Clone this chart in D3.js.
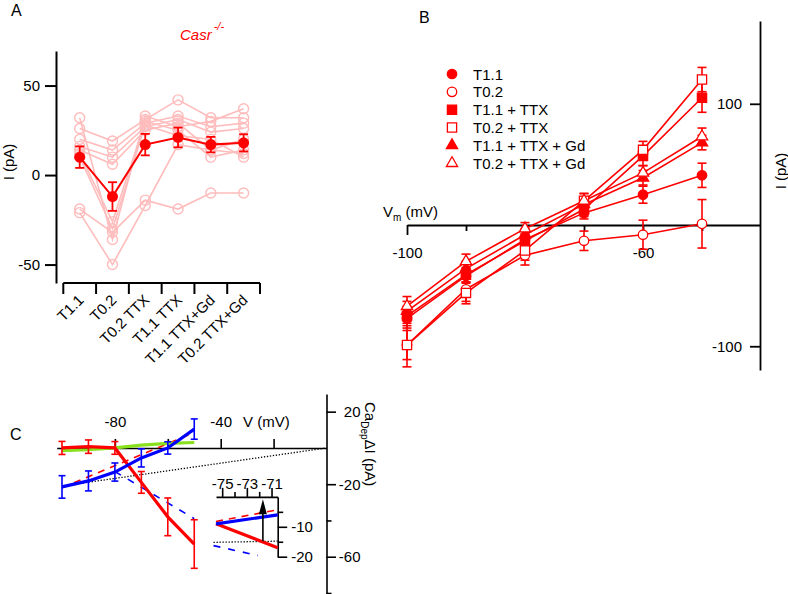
<!DOCTYPE html>
<html><head><meta charset="utf-8">
<script src="https://cdn.jsdelivr.net/npm/d3@7"></script>
<style>
body{margin:0;background:#fff;}
svg{display:block;font-family:"Liberation Sans",Arial,sans-serif;}
</style></head><body>
<svg id="c" width="788" height="594"></svg>
<script>
// ---------- Panel A data ----------
const catsA = ["T1.1","T0.2","T0.2 TTX","T1.1 TTX","T1.1 TTX+Gd","T0.2 TTX+Gd"];
const meanA = [10,-12,17,21,17,18];
const semA  = [6,8,6,5.5,4.3,4.8];
const cellA1 = [32,-36,33,27,30,37];
const cellA2 = [26,19,31,42,32,32];
const cellA3 = [20,14,29,33,27,29];
const cellA4 = [16,10,27,31,24,26];
const cellA5 = [14,6,25,29,14,20];
const cellA6 = [12,-26,30,25,10,14];
const cellA7 = [10,-30,28,22,20,10];
const cellA8 = [-19,-32,-14,-19,-10,-10];
const cellA9 = [-21,-50,-17,17,14,12];
const cellsA = [cellA1,cellA2,cellA3,cellA4,cellA5,cellA6,cellA7,cellA8,cellA9];
const ticksA = [-50,0,50];

// ---------- Panel B data ----------
const vB = [-100,-90,-80,-70,-60,-50];
const bT11      = [-77,-42,-12,10,25,41];   const bT11Err      = [8,6,5,5,7,10];
const bT02      = [-99,-53,-25,-13,-8,1];   const bT02Err      = [18,10,8,8,12,20];
const bT11TTX   = [-75,-41,-13,13,57,105];  const bT11TTXErr   = [8,6,5,6,8,12];
const bT02TTX   = [-99,-56,-21,20,62,120];  const bT02TTXErr   = [12,9,8,6,7,10];
const bT11TTXGd = [-71,-36,-8,17,39,68];    const bT11TTXGdErr = [8,6,5,6,6,6];
const bT02TTXGd = [-67,-30,-3,20,43,73];    const bT02TTXGdErr = [8,6,5,6,6,7];
const namesB = ["T1.1","T0.2","T1.1 + TTX","T0.2 + TTX","T1.1 + TTX + Gd","T0.2 + TTX + Gd"];
const ticksBx = [-100,-60]; const minorBx = [-90,-80,-70,-50];
const ticksBy = [100,-100];

// ---------- Panel C data ----------
const vC = [-100,-90,-80,-70,-60,-50];
const redC   = [0,0.7,0,-19,-38,-53];        const redCErr  = [3.6,3.7,3.5,6,10.4,13.4];
const blueC  = [-21.5,-18.2,-13.3,-5.5,0,10.4]; const blueCErr = [6.2,5.5,5,5,3.4,5.6];
const greenC = [-1.5,-1,0,1.5,2.5,3];
const redFitV = [-100,-50];  const redFitI = [-22,8.5];
const blueFitV = [-80,-50];  const blueFitI = [-13,-39];
const dotV = [-100,0];       const dotI = [-21,0];
const ticksCx = [-80,-60,-40,-20]; const labelsCx = [-80,-40];
const ticksCy = [20,-20,-60]; const minorCy = [-40,-80];
// inset
const insV = [-75.5,-70.5];
const insBlue = [-9,-6];
const insRed = [-9,-17];
const insRedDash = [-8.2,-4.3];
const insDotV = [-75.7,-70.5]; const insDot = [-15.2,-14.8];
const insBlueDashV = [-75.7,-72.1]; const insBlueDash = [-16.3,-19.6];
const insArrowV = -71.7; const insArrowI = [-14.8,-0.8];
const ticksIx = [-75,-73,-71]; const minorIx = [-74,-72];
const ticksIy = [-10,-20]; const minorIy = [-5,-15];

const RED="#ff0000", PINK="#ffbcbc", BLUE="#0000ff", GREEN="#88e01e", FS=15;
const FONT='"Liberation Sans",Arial,sans-serif';
const fmt = d => String(d);
const svg = d3.select("#c");

function styleAxis(g, w){
  g.attr("font-size",null).attr("font-family",null);
  g.select(".domain").attr("stroke","#000").attr("stroke-width",w||1.8);
  g.selectAll(".tick line").attr("stroke","#000").attr("stroke-width",w||1.8);
  g.selectAll(".tick text").attr("fill","#000").attr("font-size",FS).attr("font-family",FONT);
}
function errBars(g, xs, ys, es, xf, yf, color, cap, w){
  xs.forEach((x,i)=>{
    const X=xf(x), Y1=yf(ys[i]+es[i]), Y2=yf(ys[i]-es[i]);
    g.append("line").attr("x1",X).attr("x2",X).attr("y1",Y1).attr("y2",Y2).attr("stroke",color).attr("stroke-width",w);
    [Y1,Y2].forEach(Y=>g.append("line").attr("x1",X-cap).attr("x2",X+cap).attr("y1",Y).attr("y2",Y).attr("stroke",color).attr("stroke-width",w));
  });
}

// ================= Panel A =================
const xA = d3.scaleBand().domain(catsA).range([63.3,260]);
const bw = xA.bandwidth();
const cx = c => xA(c)+bw/2;
const yA = d3.scaleLinear().domain([-60.3,69.3]).range([283,51]);
const gA = svg.append("g");
gA.append("g").attr("transform","translate(56,0)")
  .call(d3.axisLeft(yA).tickValues(ticksA).tickSize(11).tickSizeOuter(0).tickPadding(5).tickFormat(fmt))
  .call(g=>styleAxis(g,2));
gA.append("line").attr("x1",xA.range()[0]).attr("x2",xA.range()[1]).attr("y1",283).attr("y2",283).attr("stroke","#000").attr("stroke-width",2);
catsA.map(c=>xA(c)).concat([xA.range()[1]]).forEach(x=>{
  gA.append("line").attr("x1",x).attr("x2",x).attr("y1",283).attr("y2",294).attr("stroke","#000").attr("stroke-width",2);
});
catsA.forEach(c=>{
  gA.append("text").attr("transform",`translate(${cx(c)+5},301) rotate(-45)`).attr("text-anchor","end")
    .attr("font-size",FS).text(c);
});
const lineA = d3.line().x((d,i)=>cx(catsA[i])).y(d=>yA(d));
cellsA.forEach(cell=>{
  gA.append("path").attr("d",lineA(cell)).attr("fill","none").attr("stroke",PINK).attr("stroke-width",1.6);
  cell.forEach((v,i)=>gA.append("circle").attr("cx",cx(catsA[i])).attr("cy",yA(v)).attr("r",5).attr("fill","none").attr("stroke",PINK).attr("stroke-width",1.4));
});
gA.append("path").attr("d",lineA(meanA)).attr("fill","none").attr("stroke",RED).attr("stroke-width",2);
errBars(gA, catsA, meanA, semA, cx, yA, RED, 4.5, 1.8);
meanA.forEach((v,i)=>gA.append("circle").attr("cx",cx(catsA[i])).attr("cy",yA(v)).attr("r",5.5).attr("fill",RED));
gA.append("text").attr("transform","translate(14,162) rotate(-90)").attr("text-anchor","middle").attr("font-size",FS).text("I (pA)");
gA.append("text").attr("x",11).attr("y",16).attr("font-size",16).text("A");
const cas = gA.append("text").attr("x",180).attr("y",40).attr("font-size",FS).attr("fill",RED).attr("font-style","italic");
cas.append("tspan").text("Casr");
cas.append("tspan").attr("dy",-10).attr("dx",2).attr("font-size",11).text("-/-");

// ================= Panel B =================
const xB = d3.scaleLinear().domain([-100,-40.17]).range([407,760]);
const yB = d3.scaleLinear().domain([-119.6,168.3]).range([370,21]);
const gB = svg.append("g");
gB.append("g").attr("transform",`translate(0,${yB(0)})`)
  .call(d3.axisBottom(xB).tickValues(ticksBx).tickSize(10).tickSizeOuter(0).tickPadding(12).tickFormat(fmt))
  .call(g=>styleAxis(g));
gB.append("g").attr("transform",`translate(0,${yB(0)})`)
  .call(d3.axisBottom(xB).tickValues(minorBx).tickSize(6).tickFormat(""))
  .call(g=>{styleAxis(g); g.select(".domain").remove();});
gB.append("g").attr("transform",`translate(${xB.range()[1]},0)`)
  .call(d3.axisLeft(yB).tickValues(ticksBy).tickSize(10).tickSizeOuter(0).tickPadding(8).tickFormat(fmt))
  .call(g=>styleAxis(g));
const vm = gB.append("text").attr("x",383).attr("y",217).attr("font-size",FS);
vm.append("tspan").text("V");
vm.append("tspan").attr("font-size",10).attr("dy",4).text("m");
vm.append("tspan").attr("dy",-4).text(" (mV)");
gB.append("text").attr("transform","translate(786,171) rotate(-90)").attr("text-anchor","middle").attr("font-size",FS).text("I (pA)");
gB.append("text").attr("x",419).attr("y",23).attr("font-size",16).text("B");

const seriesB = [
  {y:bT11,e:bT11Err,sym:d3.symbolCircle,size:70,fill:RED},
  {y:bT02,e:bT02Err,sym:d3.symbolCircle,size:70,fill:"#fff"},
  {y:bT11TTX,e:bT11TTXErr,sym:d3.symbolSquare,size:85,fill:RED},
  {y:bT02TTX,e:bT02TTXErr,sym:d3.symbolSquare,size:85,fill:"#fff"},
  {y:bT11TTXGd,e:bT11TTXGdErr,sym:d3.symbolTriangle,size:55,fill:RED},
  {y:bT02TTXGd,e:bT02TTXGdErr,sym:d3.symbolTriangle,size:55,fill:"#fff"}
];
const lineB = d3.line().x((d,i)=>xB(vB[i])).y(d=>yB(d));
seriesB.forEach(s=>{
  gB.append("path").attr("d",lineB(s.y)).attr("fill","none").attr("stroke",RED).attr("stroke-width",1.6);
});
seriesB.forEach(s=>{
  errBars(gB, vB, s.y, s.e, xB, yB, RED, 4.5, 1.6);
});
seriesB.forEach(s=>{
  s.y.forEach((v,i)=>gB.append("path").attr("d",d3.symbol().type(s.sym).size(s.size)())
    .attr("transform",`translate(${xB(vB[i])},${yB(v)})`).attr("fill",s.fill).attr("stroke",RED).attr("stroke-width",1.3));
});
seriesB.forEach((s,i)=>{
  const y = 74 + i*17.85;
  gB.append("path").attr("d",d3.symbol().type(s.sym).size(s.size)()).attr("transform",`translate(452,${y})`)
    .attr("fill",s.fill).attr("stroke",RED).attr("stroke-width",1.3);
  gB.append("text").attr("x",473).attr("y",y+5.5).attr("font-size",FS).text(namesB[i]);
});

// ================= Panel C =================
const xC = d3.scaleLinear().domain([-102,0]).range([56.7,326.5]);
const yC = d3.scaleLinear().domain([-81,29.8]).range([594.8,393.9]);
const gC = svg.append("g");
gC.append("g").attr("transform",`translate(0,${yC(0)})`)
  .call(d3.axisTop(xC).tickValues(ticksCx).tickSize(9).tickSizeOuter(0).tickPadding(12)
    .tickFormat(d=>labelsCx.includes(d)?String(d):""))
  .call(g=>styleAxis(g,1.6));
gC.append("text").attr("x",243).attr("y",427).attr("font-size",FS).text("V (mV)");
gC.append("g").attr("transform",`translate(${xC(0)},0)`)
  .call(d3.axisRight(yC).tickValues(ticksCy).tickSize(9.5).tickSizeOuter(0).tickPadding(0).tickFormat(fmt))
  .call(g=>{styleAxis(g,1.6); g.selectAll(".tick text").attr("text-anchor","end").attr("x",34);});
gC.append("g").attr("transform",`translate(${xC(0)},0)`)
  .call(d3.axisRight(yC).tickValues(minorCy).tickSize(5).tickFormat(""))
  .call(g=>{styleAxis(g,1.6); g.select(".domain").remove();});
const ct = gC.append("text").attr("transform","translate(365,402) rotate(90)").attr("font-size",FS);
ct.append("tspan").text("Ca");
ct.append("tspan").attr("font-size",10).attr("dy",4).text("Dep");
ct.append("tspan").attr("dy",-4).text("ΔI (pA)");
gC.append("text").attr("x",10).attr("y",440).attr("font-size",16).text("C");

const lineXY = (xs,ys,xf,yf) => d3.line().x((d,i)=>xf(xs[i])).y(d=>yf(d))(ys);
gC.append("path").attr("d",lineXY(dotV,dotI,xC,yC)).attr("fill","none").attr("stroke","#000").attr("stroke-width",1.3).attr("stroke-dasharray","1.3,1.7");
gC.append("path").attr("d",lineXY(redFitV,redFitI,xC,yC)).attr("fill","none").attr("stroke",RED).attr("stroke-width",1.6).attr("stroke-dasharray","7,6");
gC.append("path").attr("d",lineXY(blueFitV,blueFitI,xC,yC)).attr("fill","none").attr("stroke",BLUE).attr("stroke-width",1.6).attr("stroke-dasharray","7,8");
gC.append("path").attr("d",lineXY(vC,greenC,xC,yC)).attr("fill","none").attr("stroke",GREEN).attr("stroke-width",3.2);
gC.append("path").attr("d",lineXY(vC,redC,xC,yC)).attr("fill","none").attr("stroke",RED).attr("stroke-width",3.2);
errBars(gC, vC, redC, redCErr, xC, yC, RED, 3.5, 1.6);
gC.append("path").attr("d",lineXY(vC,blueC,xC,yC)).attr("fill","none").attr("stroke",BLUE).attr("stroke-width",3.2);
errBars(gC, vC, blueC, blueCErr, xC, yC, BLUE, 3.5, 1.6);

// inset
const xI = d3.scaleLinear().domain([-75.5,-70.5]).range([216,277.7]);
const yI = d3.scaleLinear().domain([-20,0]).range([556.7,496.9]);
const gI = gC.append("g");
gI.append("g").attr("transform",`translate(0,${yI(0)})`)
  .call(d3.axisTop(xI).tickValues(ticksIx).tickSize(9).tickSizeOuter(0).tickPadding(-1).tickFormat(fmt))
  .call(g=>styleAxis(g,1.6));
gI.append("g").attr("transform",`translate(0,${yI(0)})`)
  .call(d3.axisTop(xI).tickValues(minorIx).tickSize(5).tickFormat(""))
  .call(g=>{styleAxis(g,1.6); g.select(".domain").remove();});
gI.append("g").attr("transform",`translate(${xI.range()[1]},0)`)
  .call(d3.axisRight(yI).tickValues(ticksIy).tickSize(9.5).tickSizeOuter(0).tickPadding(4).tickFormat(fmt))
  .call(g=>styleAxis(g,1.6));
gI.append("g").attr("transform",`translate(${xI.range()[1]},0)`)
  .call(d3.axisRight(yI).tickValues(minorIy).tickSize(5.5).tickFormat(""))
  .call(g=>{styleAxis(g,1.6); g.select(".domain").remove();});
gI.append("path").attr("d",lineXY(insDotV,insDot,xI,yI)).attr("fill","none").attr("stroke","#000").attr("stroke-width",1.3).attr("stroke-dasharray","1.3,1.7");
gI.append("path").attr("d",lineXY(insV,insRedDash,xI,yI)).attr("fill","none").attr("stroke",RED).attr("stroke-width",1.6).attr("stroke-dasharray","7,6");
gI.append("path").attr("d",lineXY(insBlueDashV,insBlueDash,xI,yI)).attr("fill","none").attr("stroke",BLUE).attr("stroke-width",1.6).attr("stroke-dasharray","7,8");
gI.append("path").attr("d",lineXY(insV,insRed,xI,yI)).attr("fill","none").attr("stroke",RED).attr("stroke-width",3.2);
gI.append("path").attr("d",lineXY(insV,insBlue,xI,yI)).attr("fill","none").attr("stroke",BLUE).attr("stroke-width",3.2);
const ax = xI(insArrowV), ay0 = yI(insArrowI[0]), ay1 = yI(insArrowI[1]);
gI.append("line").attr("x1",ax).attr("x2",ax).attr("y1",ay0).attr("y2",ay1+12).attr("stroke","#000").attr("stroke-width",1.6);
gI.append("path").attr("d",`M${ax},${ay1} L${ax-4},${ay1+15} L${ax+4},${ay1+15} Z`).attr("fill","#000");
</script>
</body></html>
